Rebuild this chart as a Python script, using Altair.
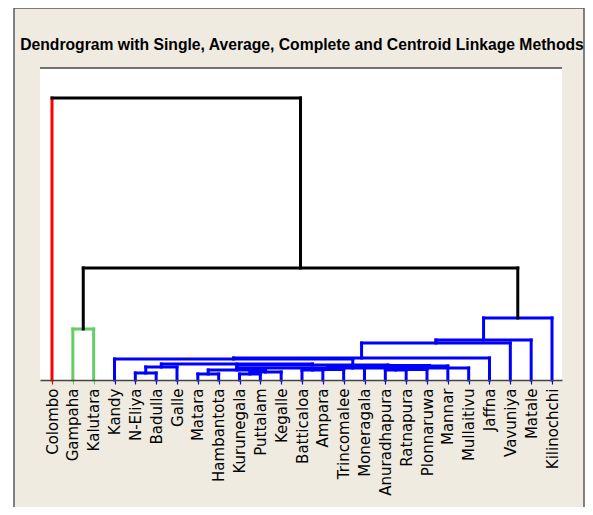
import altair as alt
import pandas as pd

# ---- data ----
title_text = "Dendrogram with Single, Average, Complete and Centroid Linkage Methods"
leaves = ["Colombo", "Gampaha", "Kalutara", "Kandy", "N-Eliya", "Badulla", "Galle",
          "Matara", "Hambantota", "Kurunegala", "Puttalam", "Kegalle", "Batticaloa",
          "Ampara", "Trincomalee", "Moneragala", "Anuradhapura", "Ratnapura",
          "Plonnaruwa", "Mannar", "Mullaitivu", "Jaffna", "Vavuniya", "Matale", "Kilinochchi"]
leaf_group = ["r", "g", "g"] + ["b"] * 22

# merges: child a, child b (indices; leaves 0..24, merges 25..), distance, group
merge_a = [4, 25, 7, 9, 28, 27, 12, 31, 32, 16, 34, 35, 33, 30, 26, 39, 3, 41, 42, 43, 44, 1, 46, 0]
merge_b = [5, 6, 8, 10, 11, 29, 13, 14, 15, 17, 18, 19, 36, 37, 38, 20, 40, 21, 22, 23, 24, 2, 45, 47]
merge_h = [7, 13, 6, 6, 8, 10, 10, 10.5, 13, 10, 10.5, 14, 14.5, 15, 16, 12, 21, 22, 37, 40, 62, 51, 112, 282]
merge_group = ["b"] * 21 + ["g", "k", "k"]

palette = {"r": "#ff0000", "g": "#66cc66", "b": "#0000ff", "k": "#000000"}

# ---- build segments through dendrogram geometry ----
n = len(leaves)
xs = list(range(n))
hs = [0.0] * n
rows = []
for a, b, h, g in zip(merge_a, merge_b, merge_h, merge_group):
    for c in (a, b):
        col = palette[leaf_group[c]] if c < n else palette[g]
        rows.append({"x": xs[c], "x2": xs[c], "y": hs[c], "y2": h, "c": col})
    rows.append({"x": xs[a], "x2": xs[b], "y": h, "y2": h, "c": palette[g]})
    xs.append((xs[a] + xs[b]) / 2)
    hs.append(h)
seg = pd.DataFrame(rows)

W, H = 522, 312
xscale = alt.Scale(domain=[-0.576, 24.48], nice=False, zero=False)
yscale = alt.Scale(domain=[0, 312], nice=False, zero=True)

names_js = "[" + ",".join("'" + s + "'" for s in leaves) + "]"

one = pd.DataFrame({"t": [title_text]})

frame = alt.Chart(one).mark_rect(fill="#efebe1", stroke="#5a5a5a", strokeWidth=1.5).encode(
    x=alt.value(-26), x2=alt.value(544), y=alt.value(-60), y2=alt.value(520))
plotbg = alt.Chart(one).mark_rect(fill="white").encode(
    x=alt.value(0), x2=alt.value(W), y=alt.value(0), y2=alt.value(H))
topline = alt.Chart(one).mark_rule(color="#444444", strokeWidth=1.5).encode(
    x=alt.value(0), x2=alt.value(W), y=alt.value(0))
title = alt.Chart(one).mark_text(
    font="Liberation Sans", fontSize=15.7, fontWeight="bold", color="#000000",
    align="center", baseline="middle"
).encode(text="t:N", x=alt.value(W / 2 + 1), y=alt.value(-23))

dend = alt.Chart(seg).mark_rule(strokeWidth=3, strokeCap="square").encode(
    x=alt.X("x:Q", scale=xscale, axis=alt.Axis(
        values=list(range(n)), labelExpr=names_js + "[datum.value]", title=None,
        grid=False, labelAngle=-90, labelAlign="right", labelBaseline="middle",
        labelFont="DejaVu Sans", labelFontSize=15, labelColor="#000000", labelPadding=4,
        tickSize=4, tickWidth=1.2, domainColor="#444444", domainWidth=1.5, zindex=2,
        tickColor={"condition": [{"test": "datum.value == 0", "value": "#ff0000"},
                                 {"test": "datum.value <= 2", "value": "#66cc66"}],
                   "value": "#0000ff"},
        labelOverlap=False)),
    x2="x2:Q",
    y=alt.Y("y:Q", scale=yscale, axis=None),
    y2="y2:Q",
    color=alt.Color("c:N", scale=None),
)

chart = alt.layer(frame, plotbg, title, dend, topline).properties(
    width=W, height=H,
    autosize=alt.AutoSizeParams(type="none"),
    padding={"left": 32, "top": 60, "right": 23, "bottom": 127},
    background="white",
).configure_view(stroke="transparent")

chart.save("out.html", embed_options={"renderer": "svg", "actions": False})
